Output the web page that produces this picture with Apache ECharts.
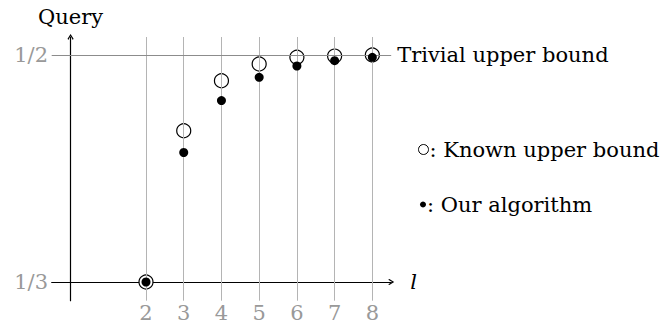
<!DOCTYPE html>
<html>
<head>
<meta charset="utf-8">
<script src="https://cdn.jsdelivr.net/npm/echarts@6/dist/echarts.min.js"></script>
<style>html,body{margin:0;padding:0;background:#fff}#c{width:671px;height:323px}</style>
</head>
<body>
<div id="c"></div>
<script>
const lValues = [2, 3, 4, 5, 6, 7, 8];
const xTickLabels = ['2', '3', '4', '5', '6', '7', '8'];
const knownUpper = [1/3, 0.4444, 0.4811, 0.4934, 0.4983, 0.4992, 0.5];
const ourAlgorithm = [1/3, 0.4284, 0.4665, 0.4836, 0.4919, 0.4958, 0.4983];
const yTickValues = [1/3, 1/2];
const yTickLabels = ['1/3', '1/2'];
const trivialBound = 1/2;
const seriesNames = ['Known upper bound', 'Our algorithm'];

const FONT = 'DejaVu Serif';
const FS = 21;
const arrow = 'path://M50,0 L100,80 L88,100 L50,35 L12,100 L0,80 Z';

const chart = echarts.init(document.getElementById('c'), null, {renderer: 'svg'});
chart.setOption({
  animation: false,
  backgroundColor: '#fff',
  grid: {left: 51.7, right: 279.8, top: 37, bottom: 22},
  xAxis: {
    type: 'value', min: -0.5, max: 8.5, offset: -18.7, z: 3,
    name: 'l', nameLocation: 'end', nameGap: 19,
    nameTextStyle: {fontFamily: FONT, fontStyle: 'italic', fontSize: FS, color: '#000'},
    axisLine: {show: true, lineStyle: {color: '#000', width: 1.2}, symbol: ['none', arrow], symbolSize: [8, 6]},
    axisTick: {show: false},
    splitLine: {show: false},
    axisLabel: {
      customValues: lValues, margin: 20,
      fontFamily: FONT, fontSize: FS, color: '#999',
      formatter: v => xTickLabels[lValues.indexOf(Math.round(v))]
    }
  },
  yAxis: {
    type: 'value', min: 0.3196, max: 0.5132, offset: -18.3, z: 3,
    name: 'Query', nameLocation: 'end', nameGap: 10,
    nameTextStyle: {fontFamily: FONT, fontSize: FS, color: '#000', align: 'center'},
    axisLine: {show: true, lineStyle: {color: '#000', width: 1.2}, symbol: ['none', arrow], symbolSize: [8, 6]},
    axisTick: {show: false},
    splitLine: {show: false},
    axisLabel: {
      customValues: yTickValues, margin: 22,
      fontFamily: FONT, fontSize: FS, color: '#999',
      formatter: v => {
        let best = 0;
        yTickValues.forEach((t, i) => { if (Math.abs(t - v) < Math.abs(yTickValues[best] - v)) best = i; });
        return yTickLabels[best];
      }
    }
  },
  legend: [
    {
      data: [seriesNames[0]], orient: 'vertical', left: 413, top: 134,
      icon: 'circle', itemWidth: 10, itemHeight: 10,
      itemStyle: {borderWidth: 1, borderColor: '#000', color: '#fff'},
      formatter: ': {name}',
      textStyle: {fontFamily: FONT, fontSize: FS, color: '#000', padding: [0, 0, 0, -4]}
    },
    {
      data: [seriesNames[1]], orient: 'vertical', left: 415, top: 189,
      icon: 'circle', itemWidth: 6, itemHeight: 6,
      formatter: ': {name}',
      textStyle: {fontFamily: FONT, fontSize: FS, color: '#000', padding: [0, 0, 0, -4]}
    }
  ],
  series: [
    {
      type: 'scatter', name: 'grid', z: 1, silent: true, data: [],
      markLine: {
        silent: true, symbol: 'none', animation: false,
        data: lValues.map(l => ({xAxis: l, lineStyle: {color: '#b4b4b4', width: 1, type: 'solid'}, label: {show: false}}))
          .concat([[
            {coord: [-0.5, trivialBound], lineStyle: {color: '#8c8c8c', width: 1, type: 'solid'},
             label: {show: true, position: 'end', distance: 6, formatter: 'Trivial upper bound',
                     fontFamily: FONT, fontSize: FS, color: '#000'}},
            {coord: [8.5, trivialBound]}
          ]])
      }
    },
    {
      type: 'scatter', name: seriesNames[0], z: 4,
      symbol: 'circle', symbolSize: 14,
      itemStyle: {color: '#fff', borderColor: '#000', borderWidth: 1.2, opacity: 1},
      data: lValues.map((l, i) => [l, knownUpper[i]])
    },
    {
      type: 'scatter', name: seriesNames[1], z: 5,
      symbol: 'circle', symbolSize: 9,
      itemStyle: {color: '#000', opacity: 1},
      data: lValues.map((l, i) => [l, ourAlgorithm[i]])
    }
  ]
});
</script>
</body>
</html>
